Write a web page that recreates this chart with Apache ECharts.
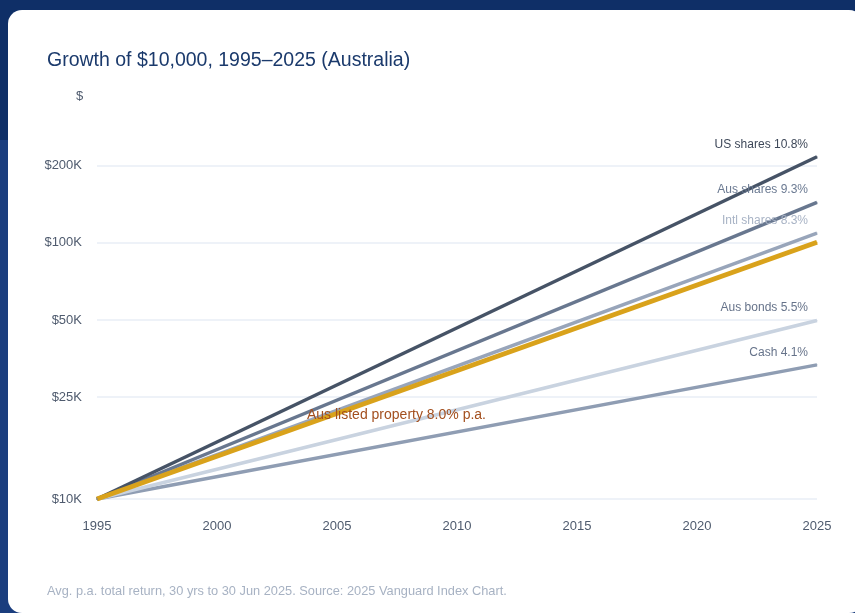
<!DOCTYPE html>
<html>
<head>
<meta charset="utf-8">
<script src="https://cdn.jsdelivr.net/npm/echarts@6/dist/echarts.min.js"></script>
<style>
  html, body { margin: 0; padding: 0; width: 855px; height: 613px; overflow: hidden; }
  body { background: linear-gradient(#0f2f67 0, #0f2f67 140px, #1b3e7e 140px); position: relative; }
  .card { position: absolute; left: 8px; top: 10px; width: 855px; height: 603px; background: #fff; border-radius: 14px; }
  #chart { position: absolute; left: 0; top: 0; width: 855px; height: 613px; }
</style>
</head>
<body>
<div class="card"></div>
<div id="chart"></div>
<script>
// growth of $10,000 — start and end values (log scale)
const years = [1995, 2025];
const usShares = [10000, 217000];
const ausShares = [10000, 144100];
const intlShares = [10000, 109300];
const ausProperty = [10000, 100600];
const ausBonds = [10000, 49800];
const cash = [10000, 33400];

const yTicks = [10000, 25000, 50000, 100000, 200000];
const yTickLabels = ['$10K', '$25K', '$50K', '$100K', '$200K'];
const xTicks = [1995, 2000, 2005, 2010, 2015, 2020, 2025];

const FONT = "'Liberation Sans', Arial, sans-serif";

function pts(vals) {
  return years.map((y, i) => [y, vals[i]]);
}

function endLabel(name, color) {
  return {
    show: true,
    position: 'top',
    align: 'right',
    distance: 6,
    offset: [-9, 0],
    formatter: name,
    color: color,
    fontSize: 12,
    fontFamily: FONT
  };
}

function line(name, vals, color, width, label, labelColor) {
  const data = pts(vals);
  if (label) {
    data[data.length - 1] = { value: data[data.length - 1], label: endLabel(label, labelColor) };
  }
  return {
    name: name,
    type: 'line',
    data: data,
    symbol: 'circle',
    symbolSize: 1,
    showSymbol: true,
    lineStyle: { color: color, width: width, cap: 'butt' },
    itemStyle: { color: color },
    emphasis: { disabled: true },
    z: 2
  };
}

const chart = echarts.init(document.getElementById('chart'));
chart.setOption({
  backgroundColor: 'transparent',
  animation: false,
  textStyle: { fontFamily: FONT },
  title: {
    text: 'Growth of $10,000, 1995\u20132025 (Australia)',
    left: 47,
    top: 51,
    padding: 0,
    textStyle: { color: '#1b3a6c', fontSize: 19.5, fontWeight: 'normal', fontFamily: FONT }
  },
  grid: { left: 97, right: 38, top: 141, bottom: 114 },
  xAxis: {
    type: 'value',
    min: 1995,
    max: 2025,
    interval: 5,
    axisLine: { show: false },
    axisTick: { show: false },
    splitLine: { show: false },
    axisLabel: {
      color: '#4f5b6e',
      fontSize: 13,
      margin: 21,
      fontFamily: FONT,
      formatter: v => String(v),
      customValues: xTicks
    }
  },
  yAxis: {
    type: 'log',
    logBase: 10,
    min: 10000,
    max: 250000,
    axisLine: { show: false },
    axisTick: { show: false, customValues: yTicks },
    splitLine: { show: true, lineStyle: { color: '#eef2f8', width: 2 } },
    axisLabel: {
      color: '#4f5b6e',
      fontSize: 13,
      margin: 15,
      padding: [6, 0, 0, 0],
      fontFamily: FONT,
      customValues: yTicks,
      formatter: v => yTickLabels[yTicks.indexOf(Math.round(v))] || ''
    }
  },
  series: [
    line('Cash', cash, '#8f9db3', 3.5, 'Cash 4.1%', '#66738a'),
    line('Aus bonds', ausBonds, '#c9d3e0', 3.5, 'Aus bonds 5.5%', '#66738a'),
    line('Intl shares', intlShares, '#98a5ba', 3.5, 'Intl shares 8.3%', '#a8b3c5'),
    line('Aus shares', ausShares, '#68778f', 3.5, 'Aus shares 9.3%', '#6b7a92'),
    line('US shares', usShares, '#465366', 3.5, 'US shares 10.8%', '#3e4859'),
    line('Aus listed property', ausProperty, '#d9a21b', 5, null, null)
  ],
  graphic: [
    {
      type: 'text',
      left: 76,
      top: 90,
      style: { text: '$', fill: '#4f5b6e', fontSize: 13, fontFamily: FONT }
    },
    {
      type: 'text',
      left: 307,
      top: 408,
      z: 10,
      style: { text: 'Aus listed property 8.0% p.a.', fill: '#a34f1e', fontSize: 14, fontFamily: FONT }
    },
    {
      type: 'text',
      left: 47,
      top: 585,
      style: {
        text: 'Avg. p.a. total return, 30 yrs to 30 Jun 2025. Source: 2025 Vanguard Index Chart.',
        fill: '#a7b2c3',
        fontSize: 12.8,
        fontFamily: FONT
      }
    }
  ]
});
</script>
</body>
</html>
